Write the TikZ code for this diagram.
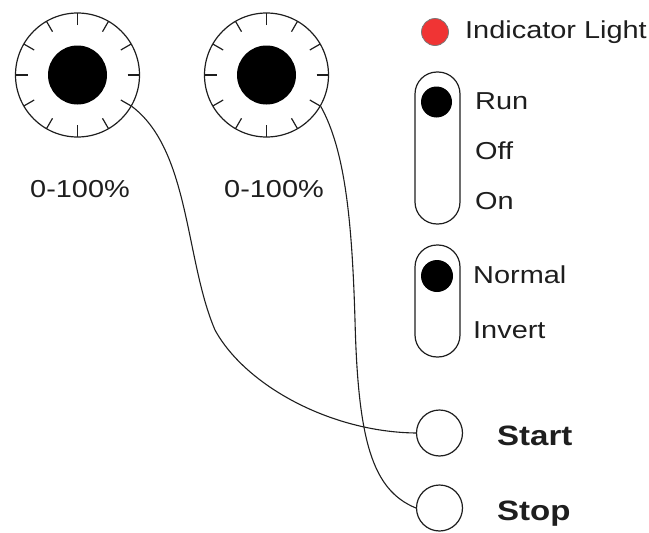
\documentclass[tikz,border=0pt]{standalone}
\usepackage{fontspec}
\setmainfont[FakeStretch=1.18]{Liberation Sans}
\definecolor{ink}{RGB}{30,30,30}
\definecolor{lampred}{RGB}{240,52,52}
\begin{document}
\begin{tikzpicture}[x=1pt,y=-1pt,
  outline/.style={draw=ink, line width=1.2pt},
  dialring/.style={outline, circle, minimum size=124pt, inner sep=0pt},
  knob/.style={circle, fill=black, inner sep=0pt},
  slot/.style={outline, rectangle, rounded corners=22pt, minimum width=45pt, inner sep=0pt},
  button/.style={outline, circle, minimum size=46pt, inner sep=0pt},
  lbl/.style={text=ink, inner sep=0pt, font=\fontsize{24.5}{28}\selectfont},
  boldlbl/.style={text=ink, inner sep=0pt, font=\fontsize{28}{32}\selectfont\bfseries},
  wire/.style={draw=ink, line width=1.1pt},
  tick/.style={draw=ink, line width=1.2pt}]
\useasboundingbox (0,0) rectangle (649,533);

% two dials with twelve ticks each
\node[dialring] (dial1) at (77.5,75) {};
\node[knob, minimum size=59pt] (knob1) at (dial1.center) {};
\node[dialring] (dial2) at (266.5,75) {};
\node[knob, minimum size=59pt] (knob2) at (dial2.center) {};
\foreach \d in {dial1,dial2}
  \foreach \a in {0,30,...,330}
    \draw[tick] (\d.center) ++(\a:50pt) -- ++(\a:12pt);
\node[lbl, anchor=base] (lbl1) at (80,197) {0-100\%};
\node[lbl, anchor=base] (lbl2) at (274,197) {0-100\%};

% indicator lamp
\node[circle, fill=lampred, draw=ink!60, line width=0.8pt, minimum size=27pt, inner sep=0pt] (lamp) at (435,32) {};
\node[lbl, anchor=base west] (lamplbl) at (465,38) {Indicator Light};

% three-position switch
\node[slot, minimum height=152pt] (sw1) at (437.5,148) {};
\node[knob, minimum size=31pt] (sw1knob) at (436.5,102) {};
\node[lbl, anchor=base west] (run) at (475,109) {Run};
\node[lbl, anchor=base west] (off) at (475,159) {Off};
\node[lbl, anchor=base west] (on) at (475,209) {On};

% two-position switch
\node[slot, minimum height=112pt] (sw2) at (437.5,301) {};
\node[knob, minimum size=32pt] (sw2knob) at (437,276) {};
\node[lbl, anchor=base west] (normal) at (473,283) {Normal};
\node[lbl, anchor=base west] (invert) at (473,338) {Invert};

% push buttons
\node[button] (start) at (439.5,433) {};
\node[boldlbl, anchor=base west] (startlbl) at (497,445) {Start};
\node[button] (stop) at (439.5,508) {};
\node[boldlbl, anchor=base west] (stoplbl) at (497,520) {Stop};

% wiring from dials to buttons
\draw[wire] (dial1.-30) .. controls (190,150) and (185,260) .. (215,330)
                        .. controls (245,385) and (330,432) .. (start.west);
\draw[wire] (dial2.-30) .. controls (345,150) and (352,220) .. (355,320)
                        .. controls (358,440) and (372,490) .. (stop.west);
\end{tikzpicture}
\end{document}
